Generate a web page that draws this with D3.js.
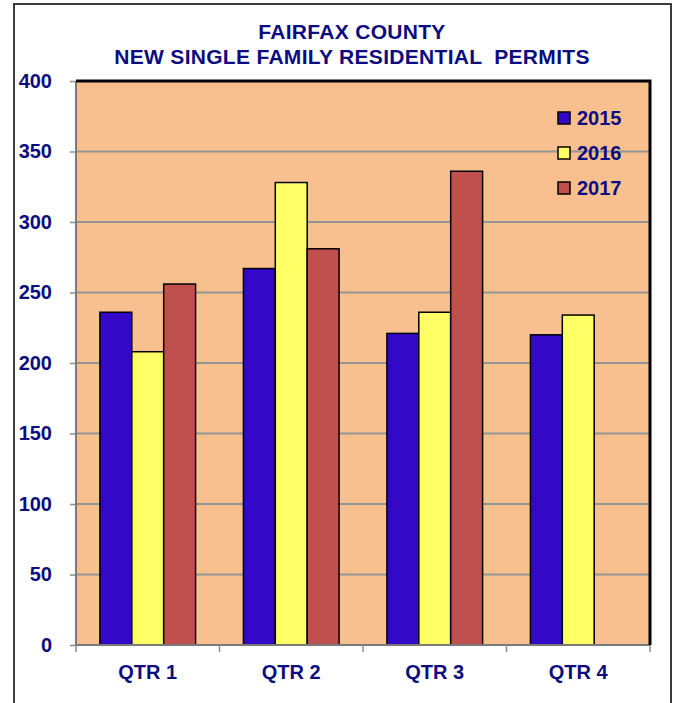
<!DOCTYPE html>
<html>
<head>
<meta charset="utf-8">
<script src="https://cdn.jsdelivr.net/npm/d3@7"></script>
<style>
	body{margin:0;padding:0;background:#ffffff;}
	#permitswrap{width:678px;height:703px;}
	text{font-family:"Liberation Sans", Arial, sans-serif;font-weight:bold;fill:#0c0c80;}
</style>
</head>
<body>
<div id="permitswrap"></div>
<script>
//chart data
var quarters = ["QTR 1", "QTR 2", "QTR 3", "QTR 4"];
var years = ["2015", "2016", "2017"];
var permits2015 = [236, 267, 221, 220];
var permits2016 = [208, 328, 236, 234];
var permits2017 = [256, 281, 336, null];
var yticks = [0, 50, 100, 150, 200, 250, 300, 350, 400];
var titleLines = ["FAIRFAX COUNTY", "NEW SINGLE FAMILY RESIDENTIAL  PERMITS"];

//global namespace for the chart
permits = {};

(function(){

	var scope = permits;
	var dom = scope.dom = {};

	scope.colors = {"2015":"#3308c6", "2016":"#ffff66", "2017":"#c0504d"};
	scope.series = {"2015":permits2015, "2016":permits2016, "2017":permits2017};

	//plot area box
	var plot = {left:76, right:650, top:81, bottom:645};

	dom.wrap = d3.select("#permitswrap");
	dom.svg = dom.wrap.append("svg").attr("width", 678).attr("height", 703);

	//outer frame, no bottom edge shows in the picture
	dom.svg.append("path")
		.attr("d", "M14,703 L14,4 L671,4 L671,703")
		.attr("fill", "none")
		.attr("stroke", "#3c3c3c")
		.attr("stroke-width", 2);

	//title
	dom.svg.append("g").selectAll("text").data(titleLines).enter().append("text")
		.attr("x", 352)
		.attr("y", function(d,i){return 39 + i*24.5})
		.attr("text-anchor", "middle")
		.style("font-size", "21px")
		.style("letter-spacing", "0.3px")
		.style("white-space", "pre")
		.text(function(d){return d});

	//scales
	var x0 = d3.scaleBand().domain(quarters).range([plot.left, plot.right]);
	var x1 = d3.scaleBand().domain(years).range([0, x0.bandwidth()]).paddingOuter(0.75);
	var y = d3.scaleLinear().domain([0, 400]).range([plot.bottom, plot.top]);

	//plot background
	dom.svg.append("rect")
		.attr("x", plot.left).attr("y", plot.top)
		.attr("width", plot.right-plot.left).attr("height", plot.bottom-plot.top)
		.attr("fill", "#f9c08f");

	//gridlines
	dom.svg.append("g").selectAll("line").data(yticks.filter(function(d){return d>0 && d<400})).enter().append("line")
		.attr("x1", plot.left).attr("x2", plot.right)
		.attr("y1", function(d){return y(d)}).attr("y2", function(d){return y(d)})
		.attr("stroke", "#949494")
		.attr("stroke-width", 2);

	//y axis (labels + small ticks), domain line drawn separately
	var yaxis = dom.svg.append("g")
		.attr("transform", "translate(" + plot.left + ",0)")
		.call(d3.axisLeft(y).tickValues(yticks).tickSize(6).tickPadding(18).tickFormat(d3.format("d")));
	yaxis.select(".domain").remove();
	yaxis.selectAll(".tick line").attr("stroke", "#8c8c8c").attr("stroke-width", 1.5);
	yaxis.selectAll(".tick text")
		.attr("fill", "#0c0c80")
		.style("font-family", "'Liberation Sans', Arial, sans-serif")
		.style("font-weight", "bold")
		.style("font-size", "20px");

	//bars
	var groups = dom.svg.append("g").selectAll("g").data(quarters).enter().append("g")
		.attr("transform", function(d){return "translate(" + x0(d) + ",0)"});

	groups.selectAll("rect").data(function(q,i){
			return years.map(function(yr){return {year:yr, value:scope.series[yr][i]}})
				.filter(function(d){return d.value!==null});
		}).enter().append("rect")
		.attr("x", function(d){return x1(d.year)})
		.attr("width", x1.bandwidth())
		.attr("y", function(d){return y(d.value)})
		.attr("height", function(d){return y(0) - y(d.value)})
		.attr("fill", function(d){return scope.colors[d.year]})
		.attr("stroke", "#000000")
		.attr("stroke-width", 1.5);

	//plot border: gray left/bottom, heavier black top/right
	dom.svg.append("path")
		.attr("d", "M" + plot.left + "," + plot.top + " L" + plot.left + "," + plot.bottom + " L" + plot.right + "," + plot.bottom)
		.attr("fill", "none")
		.attr("stroke", "#7a7a7a")
		.attr("stroke-width", 2);
	dom.svg.append("path")
		.attr("d", "M" + plot.left + "," + plot.top + " L" + plot.right + "," + plot.top + " L" + plot.right + "," + plot.bottom)
		.attr("fill", "none")
		.attr("stroke", "#000000")
		.attr("stroke-width", 3);

	//x axis
	var xaxis = dom.svg.append("g")
		.attr("transform", "translate(0," + plot.bottom + ")")
		.call(d3.axisBottom(x0).tickSize(0).tickPadding(20));
	xaxis.select(".domain").remove();
	xaxis.selectAll(".tick text")
		.attr("fill", "#0c0c80")
		.style("font-family", "'Liberation Sans', Arial, sans-serif")
		.style("font-weight", "bold")
		.style("font-size", "20px");

	//category boundary ticks
	var edges = quarters.map(function(q){return x0(q)}).concat([plot.right]);
	dom.svg.append("g").selectAll("line").data(edges).enter().append("line")
		.attr("x1", function(d){return d}).attr("x2", function(d){return d})
		.attr("y1", plot.bottom).attr("y2", plot.bottom + 7)
		.attr("stroke", "#8c8c8c")
		.attr("stroke-width", 1.5);

	//legend
	var legend = dom.svg.append("g").selectAll("g").data(years).enter().append("g")
		.attr("transform", function(d,i){return "translate(558," + (118 + i*35) + ")"});
	legend.append("rect")
		.attr("x", 0).attr("y", -6)
		.attr("width", 12).attr("height", 12)
		.attr("fill", function(d){return scope.colors[d]})
		.attr("stroke", "#000000")
		.attr("stroke-width", 1.5);
	legend.append("text")
		.attr("x", 19).attr("y", 7)
		.style("font-size", "20px")
		.text(function(d){return d});

})(); //end of closure
</script>
</body>
</html>
